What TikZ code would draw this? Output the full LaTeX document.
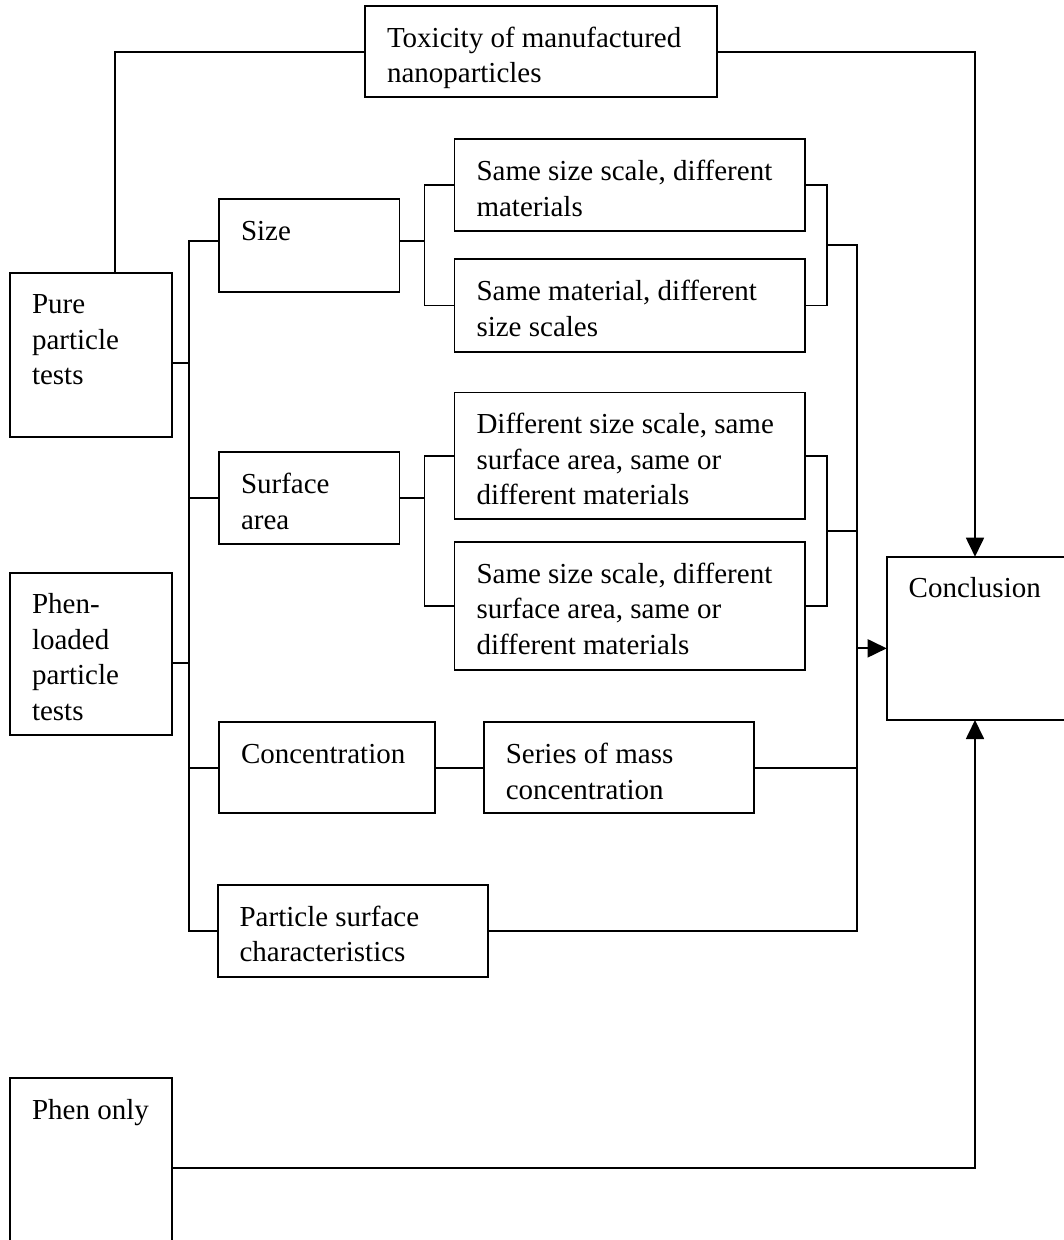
\documentclass[tikz,border=0pt]{standalone}
\usepackage{fontspec}
\setmainfont{Liberation Serif}
\usetikzlibrary{arrows.meta,calc}
\tikzset{
  boxstyle/.style={draw, line width=1.8pt, inner sep=0pt, outer sep=0pt, rectangle},
  txtstyle/.style={inner sep=0pt, outer sep=0pt, align=left, font=\fontsize{29}{35.5}\selectfont},
  wire/.style={line width=1.8pt},
  arr/.style={line width=1.8pt, -{Triangle[length=19pt,width=18pt]}}
}
\newcommand\mybox[6]{%
  \node[boxstyle, minimum width={(#4-#2)*1pt}, minimum height={(#5-#3)*1pt}] (#1) at ({(#2+#4)/2},{(#3+#5)/2}) {};
  \node[txtstyle, anchor=north west] (#1-t) at ([xshift=22pt,yshift=-21pt]#1.north west) {\rule{0pt}{20pt}#6};
}
\begin{document}
\begin{tikzpicture}[x=1pt,y=-1pt]
\useasboundingbox (0,0) rectangle (1064,1240);
\fill[white] (0,0) rectangle (1064,1240);
\mybox{tox}{365}{6}{717}{97.3}{Toxicity of manufactured\\nanoparticles}
\mybox{pure}{10}{272.7}{172}{437.3}{Pure\\particle\\tests}
\mybox{phenl}{10}{572.7}{172}{735}{Phen-\\loaded\\particle\\tests}
\mybox{phen}{10}{1078.3}{171.7}{1258.3}{Phen only}
\mybox{size}{219}{199}{399.5}{292}{Size}
\mybox{surf}{219}{452.3}{399.5}{544}{Surface\\area}
\mybox{conc}{219}{722.3}{434.6}{813.3}{Concentration}
\mybox{psc}{217.6}{885}{488}{977.3}{Particle surface\\characteristics}
\mybox{bA}{454.5}{139.3}{805}{231}{Same size scale, different\\materials}
\mybox{bB}{454.5}{259.3}{805}{351.7}{Same material, different\\size scales}
\mybox{bC}{454.5}{392.5}{805}{519.3}{Different size scale, same\\surface area, same or\\different materials}
\mybox{bD}{454.5}{542}{805}{669.7}{Same size scale, different\\surface area, same or\\different materials}
\mybox{series}{483.8}{722.3}{754}{813.3}{Series of mass\\concentration}
\mybox{concl}{886.7}{556.7}{1072}{720}{Conclusion}

\coordinate (xa) at (115,0);
\coordinate (xt) at (189,0);
\coordinate (xbl) at (424.5,0);
\coordinate (xbr) at (827,0);
\coordinate (xrt) at (857,0);
\coordinate (xc) at (975,0);

% top: toxicity links
\draw[wire] (tox.west) -| (xa |- pure.north);
\draw[arr] (tox.east) -| (xc |- concl.north);

% left side sources into trunk
\coordinate (pc) at ([yshift=-8pt]pure.east);
\coordinate (plc) at ([yshift=-9pt]phenl.east);
\draw[wire] (pc) -- (pc -| xt);
\draw[wire] (plc) -- (plc -| xt);

% trunk and branches
\coordinate (sw) at ([yshift=4.8pt]size.west);
\coordinate (se) at ([yshift=4.8pt]size.east);
\draw[wire] (sw) -| (xt |- psc.west) -- (psc.west);
\draw[wire] (surf.west) -- (surf.west -| xt);
\draw[wire] (conc.west) -- (conc.west -| xt);

% size brackets
\draw[wire] (se) -- (se -| xbl);
\draw[wire] (bA.west) -| (xbl |- bB.west) -- (bB.west);
\draw[wire] (bA.east) -| (xbr |- bB.east) -- (bB.east);
\coordinate (r1) at ($(xbr |- bA.east)!0.5!(xbr |- bB.east)$);
\draw[wire] (r1) -| (xrt |- psc.east) -- (psc.east);

% surface brackets
\draw[wire] (surf.east) -- (surf.east -| xbl);
\draw[wire] (bC.west) -| (xbl |- bD.west) -- (bD.west);
\draw[wire] (bC.east) -| (xbr |- bD.east) -- (bD.east);
\coordinate (r2) at ($(xbr |- bC.east)!0.5!(xbr |- bD.east)$);
\draw[wire] (r2) -- (r2 -| xrt);

% concentration
\draw[wire] (conc.east) -- (series.west);
\draw[wire] (series.east) -- (series.east -| xrt);

% into conclusion
\coordinate (ci) at ([yshift=-10pt]concl.west);
\draw[arr] (ci -| xrt) -- (ci);
\draw[arr] (phen.east) -| (xc |- concl.south);
\end{tikzpicture}
\end{document}
